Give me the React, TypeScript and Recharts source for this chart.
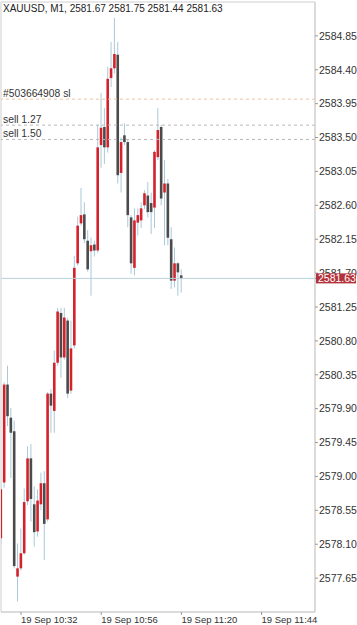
import React from 'react';
import { ComposedChart, Bar, XAxis, YAxis, ReferenceLine, ReferenceArea } from 'recharts';

// minutes after 10:00, one candle per minute (M1)
const times = [
  26, 27, 28, 29, 30, 31, 32, 33, 34, 35, 36, 37, 38, 39, 40, 41, 42, 43, 44, 45,
  46, 47, 48, 49, 50, 51, 52, 53, 54, 55, 56, 57, 58, 59, 60, 61, 62, 63, 64, 65,
  66, 67, 68, 69, 70, 71, 72, 73, 74, 75, 76, 77, 78, 79, 80,
];

const opens = [
  2578.18, 2578.92, 2580.22, 2579.78, 2579.6, 2577.67, 2577.78, 2577.98, 2578.67, 2579.24,
  2578.63, 2578.27, 2578.63, 2578.91, 2578.43, 2580.1, 2579.87, 2580.51, 2581.17, 2580.58,
  2581.07, 2580.14, 2580.74, 2581.83, 2582.36, 2582.48, 2582.13, 2581.99, 2582.08, 2582.0,
  2583.4, 2583.64, 2583.37, 2584.29, 2584.42, 2584.6, 2583.03, 2583.53, 2583.44, 2582.44,
  2581.77, 2582.37, 2582.4, 2582.6, 2582.73, 2582.63, 2582.57, 2583.24, 2583.64, 2582.77,
  2582.89, 2582.15, 2581.6, 2581.83, 2581.67,
];

const highs = [
  2578.9, 2580.25, 2580.47, 2579.91, 2579.74, 2578.11, 2578.31, 2578.84, 2579.4, 2579.43,
  2578.87, 2578.83, 2579.05, 2579.07, 2580.12, 2580.16, 2580.67, 2581.24, 2581.24, 2581.24,
  2581.1, 2581.07, 2581.93, 2582.45, 2582.83, 2582.64, 2582.27, 2582.17, 2582.13, 2583.67,
  2584.09, 2583.89, 2584.44, 2584.77, 2585.09, 2584.77, 2583.5, 2583.69, 2583.47, 2582.47,
  2582.56, 2582.56, 2582.64, 2582.8, 2582.91, 2582.77, 2583.33, 2583.89, 2583.67, 2583.2,
  2582.95, 2582.31, 2582.04, 2581.85, 2581.75,
];

const lows = [
  2578.1, 2578.85, 2579.67, 2578.98, 2577.78, 2577.34, 2577.75, 2577.96, 2578.62, 2578.4,
  2578.07, 2578.2, 2578.55, 2577.89, 2578.4, 2579.58, 2579.58, 2580.47, 2580.31, 2580.55,
  2580.04, 2580.1, 2580.7, 2581.8, 2582.33, 2582.1, 2581.72, 2581.4, 2581.92, 2581.97,
  2583.1, 2583.15, 2583.3, 2584.17, 2584.35, 2582.89, 2582.77, 2583.4, 2582.31, 2581.69,
  2581.67, 2582.2, 2582.3, 2582.55, 2582.44, 2582.22, 2582.3, 2583.2, 2582.6, 2582.07,
  2582.07, 2581.49, 2581.51, 2581.4, 2581.44,
];

const closes = [
  2578.83, 2580.22, 2579.8, 2579.58, 2577.81, 2577.78, 2577.98, 2578.66, 2579.24, 2578.7,
  2578.26, 2578.68, 2578.91, 2578.37, 2580.1, 2579.94, 2580.51, 2581.19, 2580.58, 2581.11,
  2580.1, 2580.7, 2581.77, 2582.33, 2582.47, 2582.15, 2581.75, 2582.07, 2582.0, 2583.37,
  2583.63, 2583.37, 2584.28, 2584.42, 2584.61, 2583.0, 2583.44, 2583.44, 2582.47, 2581.83,
  2582.4, 2582.47, 2582.56, 2582.76, 2582.51, 2582.51, 2583.31, 2583.6, 2582.69, 2582.89,
  2582.17, 2581.6, 2581.83, 2581.71, 2581.63,
];

const xTicks = [32, 56, 80, 104];
const yTicks = [
  2577.65, 2578.1, 2578.55, 2579.0, 2579.45, 2579.9, 2580.35, 2580.8, 2581.25,
  2581.7, 2582.15, 2582.6, 2583.05, 2583.5, 2583.95, 2584.4, 2584.85,
];

const title = 'XAUUSD, M1, 2581.67 2581.75 2581.44 2581.63';
const lastPrice = 2581.63;
const orderLines = [
  { price: 2584.01, label: '#503664908 sl', color: '#ecc3a5' },
  { price: 2583.665, label: 'sell 1.27', color: '#b8b8b8' },
  { price: 2583.475, label: 'sell 1.50', color: '#b8b8b8' },
];

const data = times.map((t, i) => ({
  t,
  range: [lows[i], highs[i]],
  o: opens[i],
  h: highs[i],
  l: lows[i],
  c: closes[i],
}));

const FONT = '"Liberation Sans", Arial, sans-serif';

const fmtTime = (t: number) =>
  `19 Sep ${10 + Math.floor(t / 60)}:${String(t % 60).padStart(2, '0')}`;

function Candle(props: any) {
  const { x, y, width, height, payload } = props;
  if (payload == null || x == null) return null;
  const { o, h, l, c } = payload;
  const top = Math.min(y, y + height);
  const span = Math.abs(height);
  const k = span / (h - l);
  const cx = x + width / 2;
  const bTop = top + (h - Math.max(o, c)) * k;
  const bBot = top + (h - Math.min(o, c)) * k;
  const up = c >= o;
  return (
    <g>
      <line x1={cx} x2={cx} y1={top} y2={top + span} stroke="#a9c8d9" strokeWidth={1} />
      <rect
        x={cx - 1.3}
        y={bTop}
        width={2.6}
        height={Math.max(bBot - bTop, 1)}
        fill={up ? '#d3222b' : '#4b4b4b'}
      />
    </g>
  );
}

const XTick = (p: any) => (
  <text x={p.x} y={p.y} dy="0.71em" textAnchor="start" fontSize={9.5} fill="#333" fontFamily={FONT}>
    {fmtTime(p.payload.value)}
  </text>
);

// y tick; the last-price tick is drawn last as the red price tag
const YTick = (p: any) => {
  const v = p.payload.value;
  if (v === lastPrice) {
    return (
      <g>
        <rect x={p.x - 3} y={p.y - 5} width={40} height={10} fill="#b3323a" />
        <text x={p.x - 1} y={p.y} dy="0.36em" fontSize={10.5} fill="#fff" fontFamily={FONT}>
          {v.toFixed(2)}
        </text>
      </g>
    );
  }
  return (
    <text x={p.x} y={p.y} dy="0.36em" fontSize={10.5} fill="#333" fontFamily={FONT}>
      {v.toFixed(2)}
    </text>
  );
};

const lineLabel = (text: string) => (p: any) => {
  const vb = p.viewBox;
  return (
    <text x={vb.x + 2} y={vb.y - 2.5} fontSize={10.3} fill="#333" fontFamily={FONT}>
      {text}
    </text>
  );
};

export default function App() {
  return (
    <div style={{ position: 'relative', width: 357, height: 625, background: '#fff' }}>
      <style>{'body{margin:0}'}</style>
      <ComposedChart
        width={357}
        height={625}
        data={data}
        margin={{ top: 2, right: 0, left: 1, bottom: 0 }}
      >
        <ReferenceArea
          x1={26}
          x2={120}
          y1={2577.2}
          y2={2585.3}
          fill="none"
          stroke="#cfcfcf"
          strokeWidth={1}
          ifOverflow="visible"
        />
        <XAxis
          dataKey="t"
          type="number"
          domain={[26, 120]}
          ticks={xTicks}
          height={13}
          tickSize={3}
          tickMargin={1}
          axisLine={{ stroke: '#cfcfcf' }}
          tickLine={{ stroke: '#999' }}
          tick={<XTick />}
          allowDataOverflow
        />
        <YAxis
          orientation="right"
          type="number"
          domain={[2577.2, 2585.3]}
          ticks={[...yTicks, lastPrice]}
          width={42}
          tickSize={3}
          tickMargin={1}
          axisLine={{ stroke: '#cfcfcf' }}
          tickLine={{ stroke: '#999' }}
          tick={<YTick />}
          interval={0}
          allowDataOverflow
        />
        {orderLines.map((ln) => (
          <ReferenceLine
            key={ln.label}
            y={ln.price}
            stroke={ln.color}
            strokeDasharray="3 3"
            label={lineLabel(ln.label)}
          />
        ))}
        <ReferenceLine y={lastPrice} stroke="#b9d2de" />
        <Bar dataKey="range" barSize={3} isAnimationActive={false} shape={(p: any) => <Candle {...p} />} />
      </ComposedChart>
      <div
        style={{
          position: 'absolute',
          left: 3,
          top: 3,
          fontSize: 10,
          lineHeight: '11px',
          color: '#222',
          fontFamily: FONT,
          pointerEvents: 'none',
          whiteSpace: 'nowrap',
        }}
      >
        {title}
      </div>
    </div>
  );
}
